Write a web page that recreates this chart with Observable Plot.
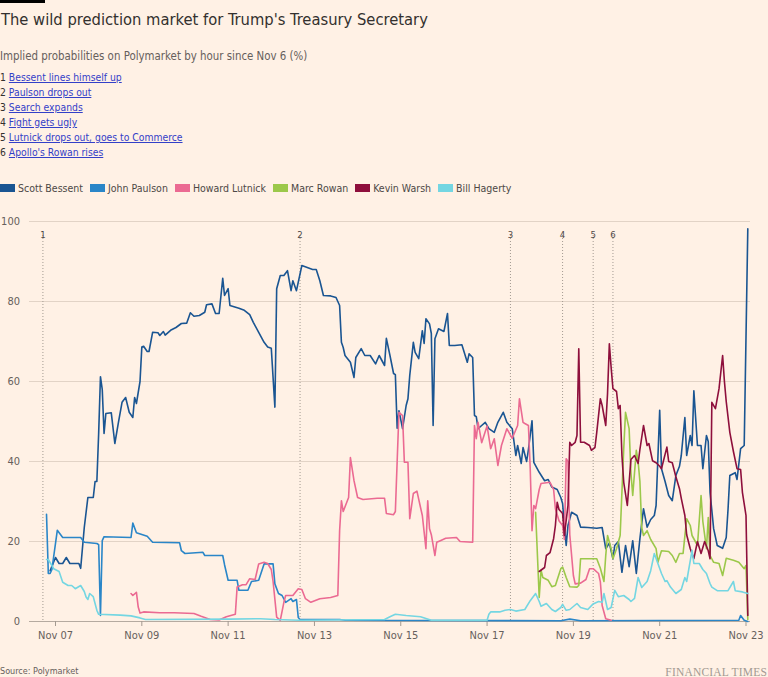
<!DOCTYPE html>
<html>
<head>
<meta charset="utf-8">
<script src="https://cdn.jsdelivr.net/npm/d3@7"></script>
<script src="https://cdn.jsdelivr.net/npm/@observablehq/plot@0.6"></script>
<style>
html,body{margin:0;padding:0;background:#fff1e5;}
body{width:768px;height:677px;position:relative;overflow:hidden;font-family:"Liberation Sans Narrow","DejaVu Sans Condensed",Roboto,sans-serif;color:#33302e;}
.bar{position:absolute;left:0;top:0;width:45px;height:3px;background:#000;}
.title{position:absolute;left:1px;top:9px;margin:0;font-size:16.4px;line-height:22px;font-weight:normal;color:#33302e;white-space:nowrap;}
.sub{position:absolute;left:0;top:48px;font-size:11.4px;line-height:16px;color:#66605c;white-space:nowrap;}
.events{position:absolute;left:0;top:69.5px;font-size:10.3px;line-height:15.2px;color:#33302e;}
.events div{height:15.2px;white-space:nowrap;}
.events a{color:#3340c8;text-decoration:underline;}
.legend{position:absolute;left:0;top:181px;height:14px;display:flex;align-items:center;font-size:10.5px;line-height:14px;color:#4d4845;white-space:nowrap;}
.legend .item{display:flex;align-items:center;margin-right:7px;}
.legend .sw{width:15px;height:8px;margin-right:3px;}
.chart{position:absolute;left:0;top:205px;}
.source{position:absolute;left:0;top:664px;font-size:9px;line-height:14px;color:#66605c;}
.ft{position:absolute;right:1px;top:665px;font-family:"Liberation Serif","DejaVu Serif",serif;font-size:11.5px;line-height:14px;letter-spacing:0.2px;color:#a39a92;}
</style>
</head>
<body>
<div class="bar"></div>
<h1 class="title">The wild prediction market for Trump's Treasury Secretary</h1>
<div class="sub">Implied probabilities on Polymarket by hour since Nov 6 (%)</div>
<div class="events" id="events"></div>
<div class="legend" id="legend"></div>
<div class="chart" id="chart"></div>
<div class="source">Source: Polymarket</div>
<div class="ft">FINANCIAL TIMES</div>
<script>
// Hours since 2024-11-06 00:00 UTC, probability (%)
const names = ["Scott Bessent", "John Paulson", "Howard Lutnick", "Marc Rowan", "Kevin Warsh", "Bill Hagerty"];
const colors = ["#1a5592", "#2a86c8", "#eb6a92", "#9cc84a", "#8e0f3c", "#74d6e2"];

const bessent = [[21,12.7],[24,16],[26,14.5],[28,14.5],[30,16],[32,14.5],[37,14.5],[38,13.3],[40,23.5],[42,31],[45,31],[46,35],[47,35],[48,47],[49,61.2],[50,58],[51,47],[52,52],[55,52.2],[57,44.5],[59,49.8],[61,54.8],[63,56],[65,52.3],[67,51],[68,56],[69,54.5],[71,60],[72,68.6],[73,68.8],[75,67.5],[76,67.5],[78,72.3],[81,72.2],[82,71.5],[84,72.5],[85,71.6],[88,72.8],[91,73.5],[94,74.5],[97,74.6],[99,77.2],[101,76.3],[104,76.5],[107,77.3],[108,79.2],[111,79.4],[113,77],[115,77],[117,85.8],[118,81.5],[120,83.2],[121,79],[126,78.3],[129,77.8],[132,76.7],[134,74.8],[137,72.3],[140,69.8],[142,68.6],[144,68.3],[146,53.6],[147,83.2],[149,86.5],[151,86.5],[153,87.7],[155,82.7],[156,85.2],[158,82.7],[161,89],[164,88.5],[167,88],[169,88],[171,85.2],[173,81.5],[177,81.4],[180,81],[182,79],[183,69.8],[184,68.5],[185,66.5],[188,64.8],[190,61],[191,66],[194,68.2],[196,66.5],[199,66.5],[202,64.4],[204,66.5],[207,64],[208,70.8],[210,66.5],[212,62],[213,61.7],[214,48.3],[215,52.7],[217,48.2],[219,54],[220,55.7],[221,61.5],[223,69.8],[224,67.3],[226,65.7],[228,72.7],[229,69.5],[230,75.7],[232,74.4],[233,72],[234,49],[235,70.7],[237,73.2],[240,72.5],[242,77],[243,69],[246,69],[250,69.2],[253,64.8],[254,66.9],[256,66],[257,51.5],[258,51.2],[259,48.2],[261,49],[263,49.8],[265,48.2],[268,47.3],[270,49.8],[273,52.3],[275,49.8],[278,48.2],[280,41.5],[281,44],[283,39.5],[284,43.5],[286,40],[287,43],[289,50.2],[290,39.8],[293,37.3],[296,35.2],[298,35.5],[300,33.6],[303,33],[305,31],[306,29.5],[308,19],[309,24],[311,27.3],[314,26.5],[316,23.6],[320,23.5],[325,23.3],[328,23.5],[330,18.2],[332,19.6],[334,15.7],[335,19],[337,20],[339,12.3],[341,19],[343,13.7],[345,20.2],[347,12],[349,20.7],[351,28.2],[353,23.6],[355,25.5],[357,26.5],[358,29],[360,52.8],[361,38.2],[363,35],[365,31.5],[367,30.2],[369,36.5],[371,38.8],[372,41.5],[374,51],[375,41.5],[377,46.5],[378,44],[379,57.7],[381,44],[383,44],[384,38.2],[386,46.5],[387,45],[388,32.3],[390,23.2],[392,19],[395,18.3],[397,21],[398,28],[399,36.5],[402,37.2],[403,35.5],[405,43.2],[407,44],[409,98.2]];

const paulson = [[19,26.8],[20,12],[21,12],[22,13],[25,22.8],[28,21],[38,21],[40,19.8],[47,19.5],[48,19.2],[49,1.5],[50,20.2],[51,21.2],[66,21],[67,24.6],[69,22.2],[75,21.3],[78,19.8],[93,19.7],[94,17.7],[96,17],[106,17.3],[107,16.5],[117,16.5],[118,14.2],[120,10.3],[125,10.3],[126,7.8],[131,7.8],[133,10],[137,10.3],[140,14.4],[145,14.4],[146,9.4],[148,7],[150,6.5],[152,4.8],[155,5.7],[156,5],[158,5.5],[159,1],[160,0.5],[182,0.5],[185,0.3],[305,0.2],[310,0.6],[316,0.2],[404,0.3],[405,1.5],[407,0.3],[409,0]];

const lutnick = [[66,7],[67,6.5],[69,7.3],[70,3.6],[71,2.1],[73,2.4],[82,2.2],[90,2.2],[101,2],[105,1.3],[110,0.5],[115,0.4],[119,1.2],[124,1.8],[125,8.6],[128,9.2],[130,9.2],[132,10.7],[135,10.5],[137,14.4],[140,14.8],[142,14.5],[144,13],[145,10],[147,1.1],[149,0.3],[151,4.8],[152,6.5],[156,6.5],[159,8.2],[161,8],[163,5.7],[166,4.8],[171,5.7],[177,6],[181,6.5],[182,22.7],[183,30.2],[184,27.5],[187,31],[188,41],[190,35.2],[192,31],[195,30.5],[203,30.8],[207,30.8],[208,27],[212,26.7],[213,27.5],[214,40],[215,52.3],[217,51.5],[218,39.8],[220,39.8],[221,25.7],[223,32],[225,32.6],[227,28.5],[228,26.5],[230,18.2],[231,30.2],[232,23.2],[233,21.7],[235,16.5],[236,19.8],[238,20.2],[241,20.8],[247,21],[249,20],[256,19.8],[257,49],[258,45.7],[259,49.8],[261,44.7],[264,48.9],[266,43.2],[268,45.7],[270,39],[272,44],[275,48.2],[278,45.8],[281,49],[282,55.7],[284,49.8],[285,49.5],[287,49],[288,38.2],[289,22.7],[290,29],[291,28.2],[293,33],[294,34.5],[299,34.8],[301,33],[302,28.2],[304,25.2],[306,24],[307,20.5],[308,40.7],[309,40],[310,21.7],[312,11.5],[313,9.4],[316,9.6],[319,10.5],[321,13.2],[323,13.2],[326,12],[327,9.9],[328,4],[330,0.7],[333,0.3]];

const rowan = [[291,27.3],[293,6],[294,12.8],[295,11],[298,10.3],[300,8.7],[302,9],[305,13.2],[306,13.6],[308,11],[310,8.7],[314,8.6],[315,9],[316,15.7],[325,15.7],[327,13.3],[329,10],[330,16.5],[331,21.5],[333,18.2],[334,15.7],[336,18.2],[338,21.5],[340,43.2],[341,52.3],[343,48.2],[344,37.2],[345,31.5],[347,42.8],[348,40],[349,35],[350,23.5],[351,21.5],[353,22.7],[355,20.5],[358,18.2],[359,14.8],[361,17.7],[365,17.5],[367,16.5],[369,14.8],[371,17],[373,17],[375,25.7],[377,24],[378,21.5],[381,19],[383,31.5],[384,25],[386,18.2],[387,26],[388,16.5],[390,14.8],[393,14.5],[395,11.5],[397,15.8],[401,15.3],[404,14.8],[407,13.2],[408,14],[409,0.5]];

const warsh = [[293,12.5],[296,13.5],[297,16.5],[299,17.2],[301,20.7],[302,24],[303,29.8],[304,28],[306,27],[307,21.5],[309,29],[310,44.8],[311,44],[313,44.8],[314,46.5],[315,68.2],[316,44.8],[318,44.8],[321,44],[322,42.8],[324,43.5],[325,47.3],[327,55.7],[328,54],[330,49],[331,57],[332,69.4],[333,63.5],[334,58.2],[336,57.5],[337,53.2],[338,54],[339,41.5],[340,34.8],[342,29],[344,40.5],[346,41.5],[348,39.5],[349,43],[351,49],[353,44],[354,44.5],[356,40.2],[358,39.7],[360,38.8],[361,38.2],[364,43.6],[365,40],[367,39.7],[369,36.2],[371,33.2],[372,30.8],[374,26.5],[375,21.7],[377,18.2],[379,15.7],[381,20],[383,17],[385,20],[387,17.7],[388,15.7],[389,54.8],[391,53.2],[393,58.2],[395,66.5],[396,60],[397,55],[399,47.3],[401,42.5],[403,38.2],[405,38],[406,32.3],[408,26.5],[409,1.5]];

const hagerty = [[19,15.5],[20,15.5],[23,13.2],[26,12.5],[28,9.8],[31,9],[33,9],[35,8.2],[38,9],[40,7.5],[41,6.1],[42,5.5],[43,7],[45,6.2],[47,2.8],[48,1.8],[60,1.6],[66,1.4],[71,0.9],[74,0.5],[121,0.6],[138,0.7],[146,0.5],[160,0.3],[207,0.5],[210,1.2],[213,1.8],[219,1.5],[227,1.2],[233,0.3],[264,0.3],[265,1.8],[266,2.4],[271,2.4],[274,2.8],[277,3],[280,2.6],[285,3],[288,5.2],[291,7],[293,5],[294,3.8],[297,4.5],[300,3],[302,2.5],[305,3.5],[306,4.3],[308,2.8],[310,3],[314,4.5],[316,3.5],[320,3],[323,4.4],[326,5],[328,4.8],[329,7],[331,3],[333,3.5],[335,7.8],[337,6.2],[340,6.5],[343,5.5],[344,5],[346,5.8],[348,11],[350,8.5],[353,10],[355,12.7],[357,17],[359,14.5],[361,12],[363,10],[364,10.2],[366,8.6],[369,7],[372,8],[374,11],[375,10],[378,17.8],[379,14.5],[382,14.5],[384,13],[386,12],[388,9.5],[389,8.6],[392,7.7],[398,7.7],[401,10],[402,7.7],[406,7.4],[409,7]];

const series = [bessent, paulson, lutnick, rowan, warsh, hagerty];

const eventHours = [17, 160, 277, 306, 323, 334];
const eventLabels = ["1", "2", "3", "4", "5", "6"];
const eventTitles = ["Bessent lines himself up", "Paulson drops out", "Search expands", "Fight gets ugly", "Lutnick drops out, goes to Commerce", "Apollo's Rowan rises"];

const xTickDays = [7, 9, 11, 13, 15, 17, 19, 21, 23];
const yTicks = [0, 20, 40, 60, 80, 100];
const xDomainHours = [9.54, 410.5];

const t0 = Date.UTC(2024, 10, 6);
const toDate = h => new Date(t0 + h * 3600000);

// Event list
const evDiv = document.getElementById("events");
eventTitles.forEach((t, i) => {
  const d = document.createElement("div");
  d.innerHTML = `${eventLabels[i]} <a href="#">${t}</a>`;
  evDiv.appendChild(d);
});

// Legend
const lg = document.getElementById("legend");
names.forEach((n, i) => {
  const it = document.createElement("div");
  it.className = "item";
  it.innerHTML = `<span class="sw" style="background:${colors[i]}"></span><span>${n}</span>`;
  lg.appendChild(it);
});

const rows = [];
series.forEach((s, i) => s.forEach(([h, v]) => rows.push({name: names[i], date: toDate(h), value: v})));
const events = eventHours.map((h, i) => ({date: toDate(h), label: eventLabels[i]}));
const xTicks = xTickDays.map(d => new Date(Date.UTC(2024, 10, d)));

const chart = Plot.plot({
  width: 768,
  height: 450,
  marginTop: 16,
  marginBottom: 34,
  marginLeft: 29,
  marginRight: 18,
  style: {background: "transparent", fontFamily: '"Liberation Sans Narrow","DejaVu Sans Condensed",Roboto,sans-serif', fontSize: "11px", color: "#66605c"},
  x: {type: "utc", domain: xDomainHours.map(toDate)},
  y: {domain: [0, 100]},
  color: {domain: names, range: colors},
  marks: [
    Plot.gridY(yTicks.filter(d => d > 0), {stroke: "#e2d3c6", strokeOpacity: 1}),
    Plot.ruleY([0], {stroke: "#b5aaa0"}),
    Plot.ruleX(events, {x: "date", stroke: "#a39a91", strokeDasharray: "1,2", insetTop: 14}),
    Plot.text(events, {x: "date", text: "label", frameAnchor: "top", dy: 10, fill: "#4d4845", fontSize: 9.5}),
    Plot.axisY(yTicks, {tickSize: 0, tickPadding: 9.5, fill: "#66605c", label: null}),
    Plot.axisX(xTicks, {tickFormat: d3.utcFormat("%b %d"), tickSize: 5, tickPadding: 5, stroke: "#a39a91", fill: "#66605c", label: null}),
    Plot.line(rows, {x: "date", y: "value", z: "name", stroke: "name", strokeWidth: 1.6})
  ]
});
document.getElementById("chart").appendChild(chart);
</script>
</body>
</html>
